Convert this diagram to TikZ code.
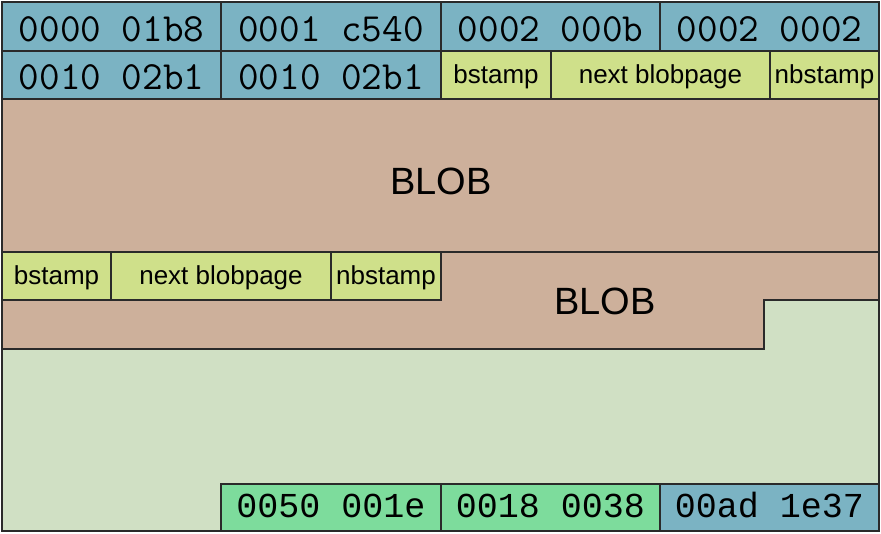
\documentclass[tikz,border=0pt]{standalone}
\usepackage{fontspec}
\setmainfont{Liberation Sans}
\newfontfamily\dumpfont{Liberation Mono}
\definecolor{hexblue}{HTML}{7BB3C3}
\definecolor{stampgreen}{HTML}{CFE08A}
\definecolor{blobbrown}{HTML}{CDB09B}
\definecolor{pagegreen}{HTML}{D0E0C4}
\definecolor{dumpgreen}{HTML}{7DDC9C}
\definecolor{edge}{HTML}{2A2A2A}
\begin{document}
\begin{tikzpicture}[x=1pt,y=-1pt,
    cell/.style={draw=edge,line width=1.2pt,anchor=north west,inner sep=0pt,outer sep=0pt,minimum height=48pt},
    hexcell/.style={cell,fill=hexblue,font=\ttfamily\fontsize{40}{42}\selectfont,text height=29pt,text depth=0pt},
    stampcell/.style={cell,fill=stampgreen,font=\fontsize{26}{28}\selectfont,text height=18pt,text depth=2pt},
    dumpcell/.style={cell,font=\dumpfont\fontsize{35}{36}\selectfont,text height=20pt,text depth=0pt},
    blobtext/.style={font=\fontsize{38}{40}\selectfont}]
  \useasboundingbox (0,0) rectangle (881,533);
  % page and blob areas
  \draw[edge,line width=1.2pt,fill=pagegreen] (2,2) rectangle (879,531);
  \draw[edge,line width=1.2pt,fill=blobbrown] (2,99) rectangle (879,252);
  \draw[edge,line width=1.2pt,fill=blobbrown] (2,252) -- (879,252) -- (879,300)
    -- (764,300) -- (764,349) -- (2,349) -- cycle;
  \node[blobtext] (blob1) at (441,181) {BLOB};
  \node[blobtext] (blob2) at (605,301) {BLOB};
  % header
  \node[hexcell,minimum width=219pt,minimum height=49pt] (h1) at (2,2) {0000 01b8};
  \node[hexcell,minimum width=220pt,minimum height=49pt] (h2) at (h1.north east) {0001 c540};
  \node[hexcell,minimum width=219pt,minimum height=49pt] (h3) at (h2.north east) {0002 000b};
  \node[hexcell,minimum width=219pt,minimum height=49pt] (h4) at (h3.north east) {0002 0002};
  \node[hexcell,minimum width=219pt] (h5) at (h1.south west) {0010 02b1};
  \node[hexcell,minimum width=220pt] (h6) at (h5.north east) {0010 02b1};
  \node[stampcell,minimum width=110pt] (s1) at (h6.north east) {bstamp};
  \node[stampcell,minimum width=219pt] (s2) at (s1.north east) {next blobpage};
  \node[stampcell,minimum width=109pt] (s3) at (s2.north east) {nbstamp};
  % second blob chunk
  \node[stampcell,minimum width=109pt] (t1) at (2,252) {bstamp};
  \node[stampcell,minimum width=220pt] (t2) at (t1.north east) {next blobpage};
  \node[stampcell,minimum width=110pt] (t3) at (t2.north east) {nbstamp};
  % trailer
  \node[dumpcell,fill=dumpgreen,minimum width=220pt,minimum height=47pt] (d1) at (221,484) {0050 001e};
  \node[dumpcell,fill=dumpgreen,minimum width=219pt,minimum height=47pt] (d2) at (d1.north east) {0018 0038};
  \node[dumpcell,fill=hexblue,minimum width=219pt,minimum height=47pt] (d3) at (d2.north east) {00ad 1e37};
\end{tikzpicture}
\end{document}
